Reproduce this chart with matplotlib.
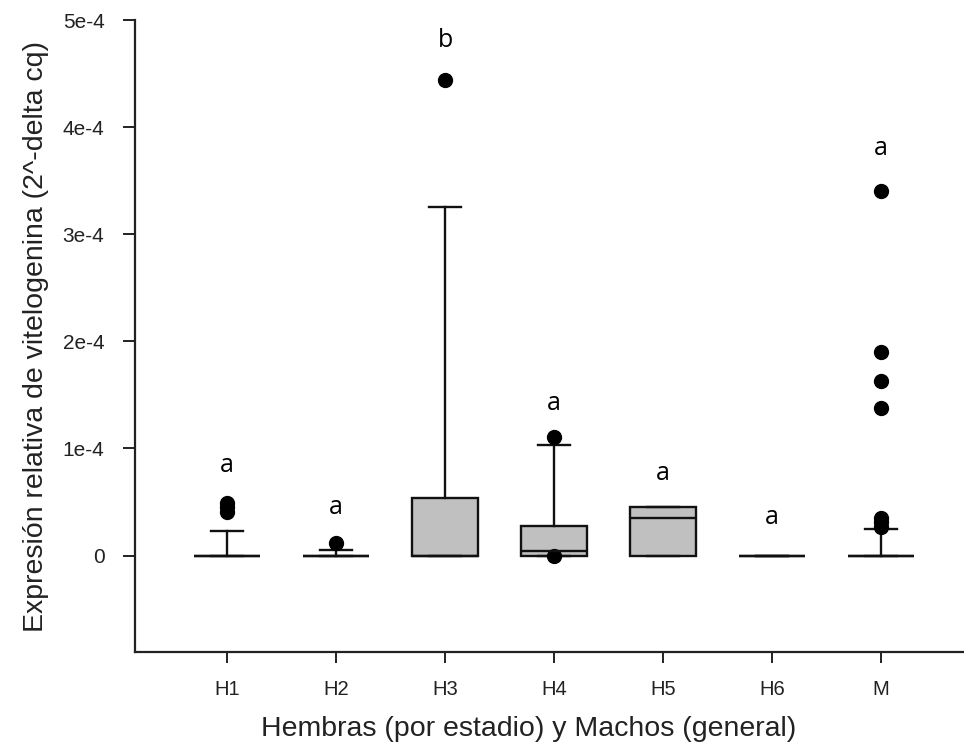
import matplotlib
matplotlib.use("Agg")
import matplotlib.pyplot as plt

categories = ["H1", "H2", "H3", "H4", "H5", "H6", "M"]
q1 = [0.0, 0.0, 0.0, 0.0, 0.0, 0.0, 0.0]
med = [0.0, 0.0, 0.0, 0.047e-4, 0.35e-4, 0.0, 0.0]
q3 = [0.0, 0.0, 0.54e-4, 0.274e-4, 0.45e-4, 0.0, 0.0]
whislo = [0.0, 0.0, 0.0, 0.0, 0.0, 0.0, 0.0]
whishi = [0.227e-4, 0.053e-4, 3.25e-4, 1.03e-4, 0.45e-4, 0.0, 0.25e-4]
fliers = [
    [0.41e-4, 0.45e-4, 0.49e-4],
    [0.115e-4],
    [4.44e-4],
    [1.105e-4, -0.005e-4],
    [],
    [],
    [3.40e-4, 1.90e-4, 1.63e-4, 1.38e-4, 0.35e-4, 0.31e-4, 0.27e-4],
]
letters = ["a", "a", "b", "a", "a", "a", "a"]
letter_y = [0.84e-4, 0.45e-4, 4.81e-4, 1.42e-4, 0.77e-4, 0.36e-4, 3.80e-4]
ytick_vals = [0, 1e-4, 2e-4, 3e-4, 4e-4, 5e-4]
ytick_labels = ["0", "1e-4", "2e-4", "3e-4", "4e-4", "5e-4"]

fig = plt.figure(figsize=(9.64, 7.56), dpi=100)
ax = fig.add_axes([135 / 964, 1 - 652 / 756, (964 - 135) / 964, (652 - 20) / 756])

stats = []
for i in range(len(categories)):
    stats.append(dict(q1=q1[i], med=med[i], q3=q3[i], whislo=whislo[i],
                      whishi=whishi[i], fliers=fliers[i], label=categories[i]))

positions = list(range(1, len(categories) + 1))
ax.bxp(stats, positions=positions, widths=0.61, patch_artist=True,
       showcaps=True,
       boxprops=dict(facecolor="#c0c0c0", edgecolor="#111111", linewidth=1.7),
       medianprops=dict(color="#111111", linewidth=1.7),
       whiskerprops=dict(color="#111111", linewidth=1.7),
       capprops=dict(color="#111111", linewidth=1.7),
       capwidths=0.3,
       flierprops=dict(marker="o", markerfacecolor="black", markeredgecolor="black",
                       markersize=10, linestyle="none"))

for i, (t, y) in enumerate(zip(letters, letter_y)):
    ax.text(positions[i], y, t, ha="center", va="center", fontsize=18,
            family="Open Sans", color="black")

ax.set_xlim(1 - 92 / 109, 1 + (964 - 227) / 109)
ax.set_ylim(-0.9e-4, 5e-4)
ax.set_yticks(ytick_vals)
ax.set_yticklabels(ytick_labels)
ax.set_xticks(positions)
ax.set_xticklabels(categories)

for s in ["top", "right"]:
    ax.spines[s].set_visible(False)
for s in ["left", "bottom"]:
    ax.spines[s].set_linewidth(1.6)
    ax.spines[s].set_color("#222222")

ax.tick_params(axis="y", direction="out", length=9, width=1.4, color="#222222",
               labelsize=15, labelcolor="#222222", pad=13)
ax.tick_params(axis="x", direction="out", length=8, width=1.4, color="#222222",
               labelsize=14.5, labelcolor="#222222", pad=12)
for lab in ax.get_yticklabels() + ax.get_xticklabels():
    lab.set_family("Liberation Sans")

ax.set_xlabel("Hembras (por estadio) y Machos (general)", fontsize=20.5,
              family="Liberation Sans", color="#222222")
ax.xaxis.set_label_coords((529 - 135) / 829, -(742 - 652) / 632)
ax.xaxis.label.set_va("bottom")
ax.set_ylabel("Expresión relativa de vitelogenina (2^-delta cq)", fontsize=20.5,
              family="Liberation Sans", color="#222222", labelpad=10)

fig.savefig("out.png", dpi=100)
